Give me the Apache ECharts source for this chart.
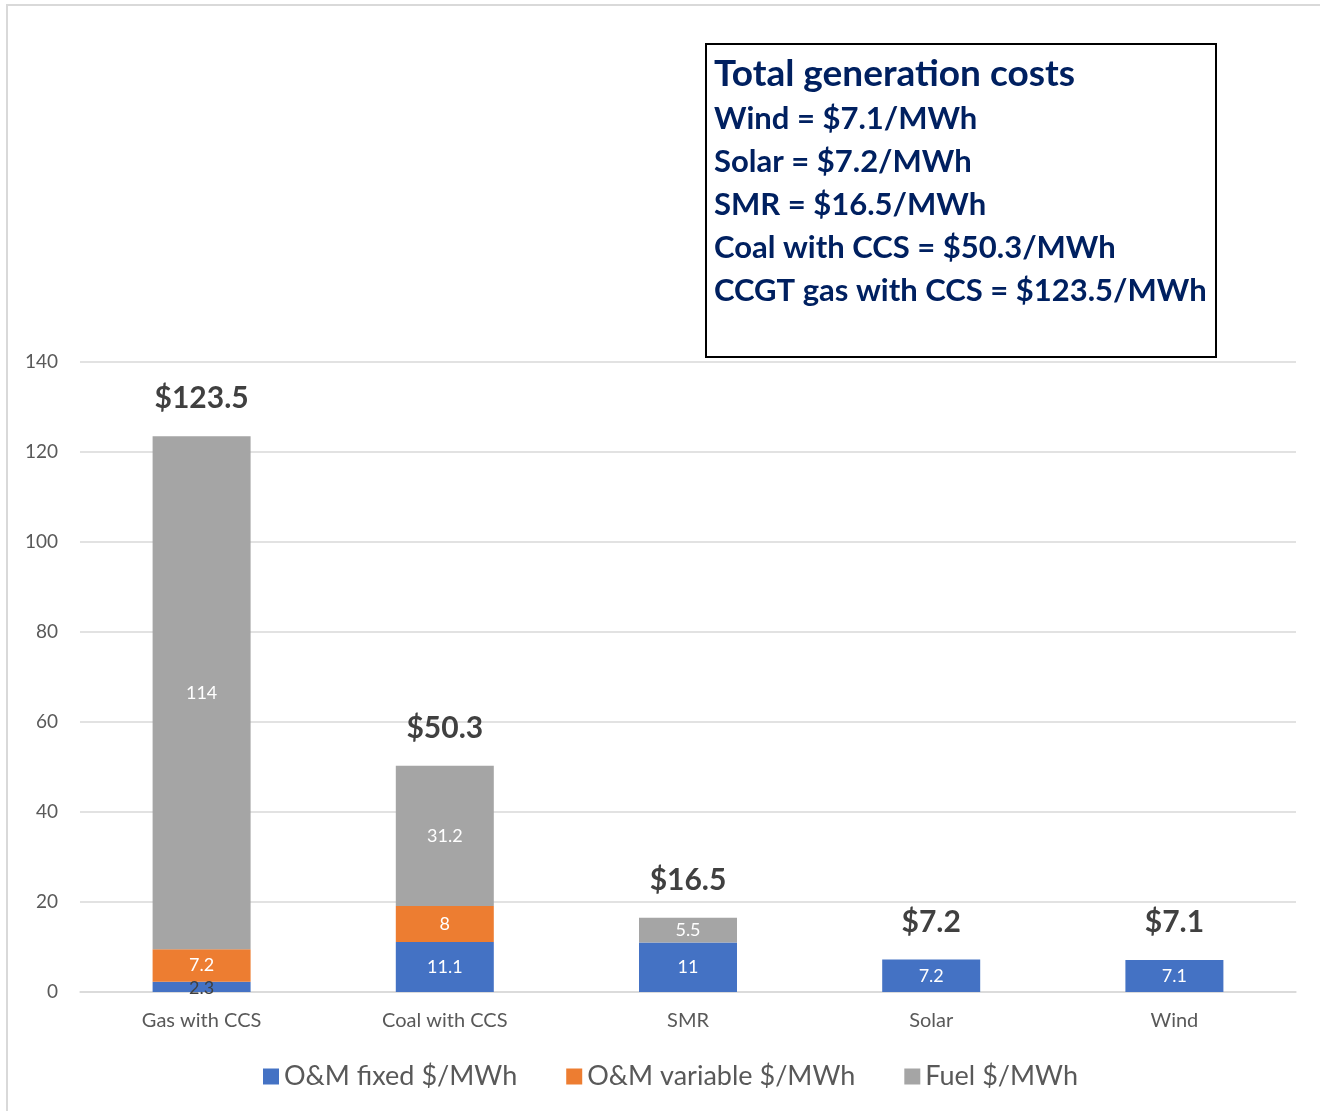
<!DOCTYPE html>
<html><head><meta charset="utf-8">
<script src="https://cdn.jsdelivr.net/npm/echarts@6/dist/echarts.min.js"></script>
<style>html,body{margin:0;padding:0;background:#fff}#c{width:1320px;height:1111px}</style>
</head><body><div id="c"></div>
<script>
const categories = ['Gas with CCS', 'Coal with CCS', 'SMR', 'Solar', 'Wind'];
const omFixed = [2.3, 11.1, 11, 7.2, 7.1];
const omVariable = [7.2, 8, null, null, null];
const fuel = [114, 31.2, 5.5, null, null];
const totals = [123.5, 50.3, 16.5, 7.2, 7.1];
const seriesNames = ['O&M fixed $/MWh', 'O&M variable $/MWh', 'Fuel $/MWh'];
const boxTitle = 'Total generation costs';
const boxLines = ['Wind = $7.1/MWh', 'Solar = $7.2/MWh', 'SMR = $16.5/MWh', 'Coal with CCS = $50.3/MWh', 'CCGT gas with CCS = $123.5/MWh'];

const FONT = 'Lato, "Open Sans", sans-serif';
const colors = ['#4472C4', '#ED7D31', '#A5A5A5'];

function seg(values, idx) {
  return {
    name: seriesNames[idx], type: 'bar', stack: 'a', barWidth: 98,
    itemStyle: {color: colors[idx]},
    label: {show: true, position: 'inside', color: '#fff', fontSize: 18, fontFamily: FONT,
      formatter: p => p.value == null ? '' : String(p.value)},
    data: values.map((v, i) => (idx === 0 && v < 3) ? {value: v, label: {color: '#404040', offset: [0, 1]}} : v)
  };
}

const chart = echarts.init(document.getElementById('c'));
const graphic = [
  {type: 'rect', shape: {x: 7, y: 5, width: 1400, height: 1200}, style: {fill: 'none', stroke: '#d9d9d9', lineWidth: 2}, silent: true, z: -10},
  {type: 'rect', shape: {x: 706, y: 44, width: 510, height: 313}, style: {fill: '#fff', stroke: '#000', lineWidth: 2}, z: 10},
  {type: 'text', x: 714, y: 74, style: {text: boxTitle, fill: '#002060', font: 'bold 37px ' + FONT, textVerticalAlign: 'middle'}, z: 11}
];
boxLines.forEach((t, i) => graphic.push({type: 'text', x: 714, y: 119 + i * 43,
  style: {text: t, fill: '#002060', font: 'bold 31px ' + FONT, textVerticalAlign: 'middle'}, z: 11}));

chart.setOption({
  animation: false,
  textStyle: {fontFamily: FONT},
  grid: {left: 80, right: 24, top: 362, bottom: 119},
  legend: {
    data: seriesNames, left: 258, top: 1058, itemWidth: 16, itemHeight: 16, itemGap: 49, itemTextGap: 8,
    icon: 'rect', textStyle: {fontSize: 27, color: '#595959', fontFamily: FONT}
  },
  xAxis: {
    type: 'category', data: categories,
    axisLine: {lineStyle: {color: '#d9d9d9', width: 1.5}}, axisTick: {show: false},
    axisLabel: {fontSize: 20, color: '#595959', margin: 19, fontFamily: FONT}
  },
  yAxis: {
    type: 'value', min: 0, max: 140, interval: 20,
    axisLine: {show: false}, axisTick: {show: false},
    splitLine: {lineStyle: {color: '#d9d9d9', width: 1.5}},
    axisLabel: {fontSize: 19, color: '#595959', margin: 22, fontFamily: FONT}
  },
  graphic: graphic,
  series: [
    seg(omFixed, 0), seg(omVariable, 1), seg(fuel, 2),
    {
      name: 'Total', type: 'scatter', data: totals, symbol: 'circle', symbolSize: 1, silent: true,
      itemStyle: {color: 'rgba(0,0,0,0)', opacity: 1},
      label: {show: true, position: 'top', distance: 22, formatter: p => '$' + p.value,
        fontSize: 30, fontWeight: 'bold', color: '#404040', fontFamily: FONT}
    }
  ]
});
</script></body></html>
